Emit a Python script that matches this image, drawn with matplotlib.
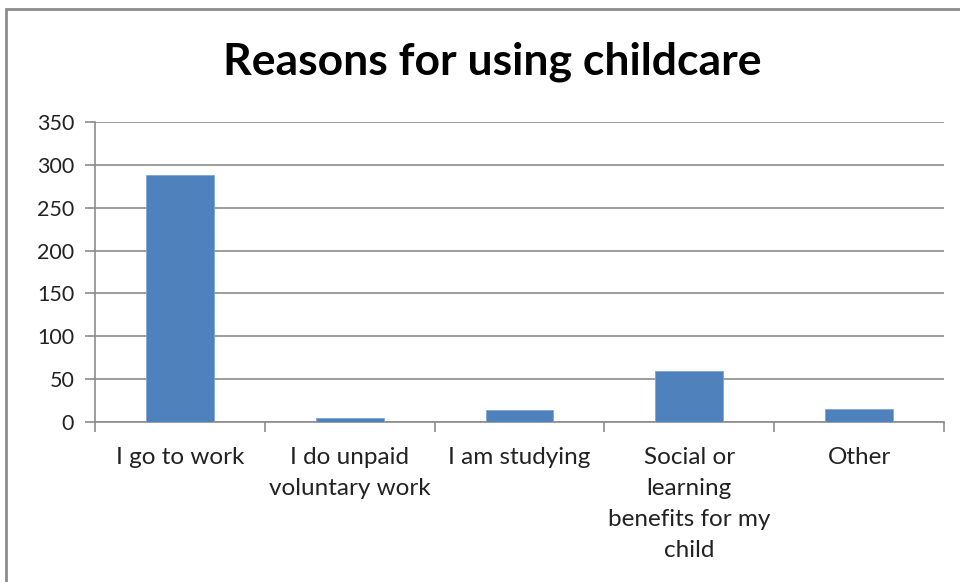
import matplotlib
matplotlib.use("Agg")
import matplotlib.pyplot as plt
from matplotlib.patches import Rectangle

categories = [
    "I go to work",
    "I do unpaid\nvoluntary work",
    "I am studying",
    "Social or\nlearning\nbenefits for my\nchild",
    "Other",
]
counts = [288, 5, 14, 59, 15]
y_ticks = [0, 50, 100, 150, 200, 250, 300, 350]

W, H = 960, 582
plt.rcParams["font.family"] = ["Lato", "DejaVu Sans"]

fig = plt.figure(figsize=(W / 100, H / 100), dpi=100)
fig.patch.set_facecolor("white")

# outer chart frame, cut off at the right and bottom edges
fig.patches.append(Rectangle((6 / W, -0.05), 1.1, 1 - 9 / H + 0.05,
                             transform=fig.transFigure, fill=False,
                             edgecolor="#8c8c8c", linewidth=2))

ax = fig.add_axes([95 / W, (H - 422) / H, (944 - 95) / W, (422 - 122) / H])
x = list(range(len(categories)))
ax.bar(x, counts, width=0.4, color="#4f81bd", edgecolor="#7fa4d3",
       linewidth=0.6, zorder=3)

ax.set_xlim(-0.5, len(categories) - 0.5)
ax.set_ylim(0, 350)
ax.set_yticks(y_ticks)
ax.yaxis.grid(True, color="#8c8c8c", linewidth=1.2, zorder=0)
ax.tick_params(axis="y", length=7, width=1.2, color="#8c8c8c",
               labelsize=15.5, pad=8, labelcolor="#222222")

# category boundaries carry the x ticks
ax.set_xticks([i - 0.5 for i in range(len(categories) + 1)])
ax.set_xticklabels([])
ax.tick_params(axis="x", length=7, width=1.2, color="#8c8c8c")
for i, lab in enumerate(categories):
    ax.text(i, -29, lab, ha="center", va="top", fontsize=17.5,
            color="#222222", linespacing=1.6)

for side in ("top", "right"):
    ax.spines[side].set_visible(False)
for side in ("left", "bottom"):
    ax.spines[side].set_color("#8c8c8c")
    ax.spines[side].set_linewidth(1.2)

fig.text(492 / W, 1 - 62 / H, "Reasons for using childcare", ha="center",
         va="center", fontsize=32, fontweight="bold", color="black")

fig.savefig("out.png", dpi=100)
